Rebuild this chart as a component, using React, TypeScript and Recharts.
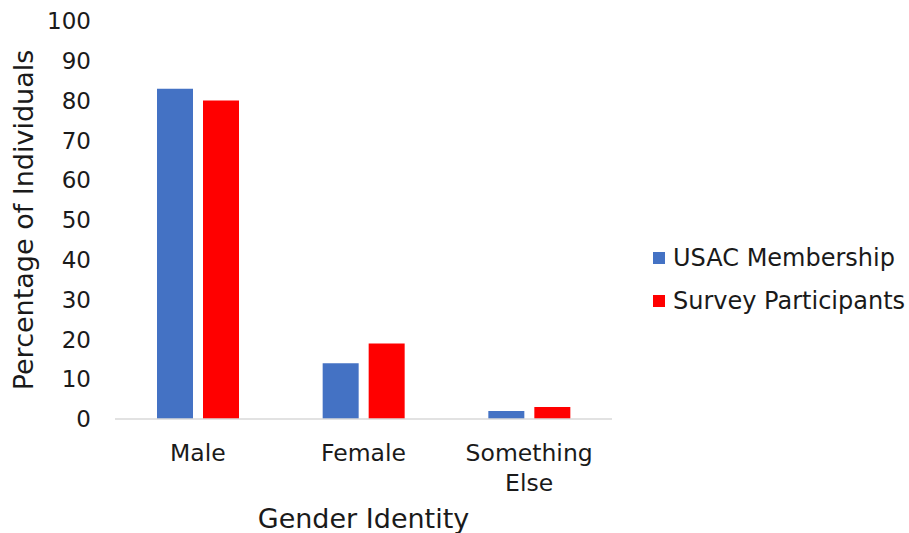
import { Bar, BarChart, Legend, XAxis, YAxis } from 'recharts'

const categories = ['Male', 'Female', 'Something Else']
const usacMembership = [83, 14, 2]
const surveyParticipants = [80, 19, 3]
const yTicks = [0, 10, 20, 30, 40, 50, 60, 70, 80, 90, 100]

const seriesInfo = [
  { key: 'usac', name: 'USAC Membership', color: '#4472C4' },
  { key: 'survey', name: 'Survey Participants', color: '#FF0000' },
]

const data = categories.map((gender, i) => ({
  gender,
  usac: usacMembership[i],
  survey: surveyParticipants[i],
}))

const font = '"DejaVu Sans", Verdana, sans-serif'
const textColor = '#1a1a1a'

function GenderTick({ x, y, payload }: any) {
  const label: string = payload.value
  const lines = label.length > 10 ? label.split(' ') : [label]
  return (
    <text x={x} y={y} textAnchor="middle" fill={textColor} fontSize={23.5} fontFamily={font}>
      {lines.map((line, i) => (
        <tspan key={line} x={x} dy={i === 0 ? 40 : 30}>
          {line}
        </tspan>
      ))}
    </text>
  )
}

function YTitle({ viewBox }: any) {
  const cx = viewBox.x + 33
  const cy = viewBox.y + viewBox.height / 2
  return (
    <text
      x={cx}
      y={cy}
      transform={`rotate(-90, ${cx}, ${cy})`}
      textAnchor="middle"
      fill={textColor}
      fontSize={27}
      fontFamily={font}
    >
      Percentage of Individuals
    </text>
  )
}

function SeriesLegend() {
  return (
    <div style={{ fontFamily: font, fontSize: 24, color: textColor }}>
      {seriesInfo.map((s) => (
        <div key={s.key} style={{ display: 'flex', alignItems: 'center', height: 43 }}>
          <span style={{ width: 12, height: 12, background: s.color, marginRight: 8 }} />
          <span>{s.name}</span>
        </div>
      ))}
    </div>
  )
}

export default function App() {
  return (
    <div style={{ position: 'absolute', left: 0, top: 0, width: 909, height: 533, background: '#fff' }}>
      <BarChart
        width={909}
        height={533}
        data={data}
        margin={{ top: 21, right: 41, bottom: 0, left: 0 }}
        barCategoryGap={42}
        barGap={10}
      >
        <XAxis
          dataKey="gender"
          height={114}
          axisLine={{ stroke: '#D9D9D9', strokeWidth: 1.5 }}
          tickLine={false}
          tickSize={0}
          tick={<GenderTick />}
          interval={0}
          label={{
            value: 'Gender Identity',
            position: 'insideBottom',
            offset: 5,
            fill: textColor,
            fontSize: 27,
            fontFamily: font,
          }}
        />
        <YAxis
          width={115}
          domain={[0, 100]}
          ticks={yTicks}
          axisLine={false}
          tickLine={false}
          tickSize={0}
          tickMargin={24}
          tick={{ fill: textColor, fontSize: 23, fontFamily: font }}
          label={{ content: <YTitle /> }}
        />
        <Legend
          layout="horizontal"
          verticalAlign="middle"
          align="right"
          wrapperStyle={{ position: 'absolute', left: 653, top: 236, width: 256 }}
          content={<SeriesLegend />}
        />
        {seriesInfo.map((s) => (
          <Bar key={s.key} dataKey={s.key} name={s.name} fill={s.color} isAnimationActive={false} />
        ))}
      </BarChart>
    </div>
  )
}
